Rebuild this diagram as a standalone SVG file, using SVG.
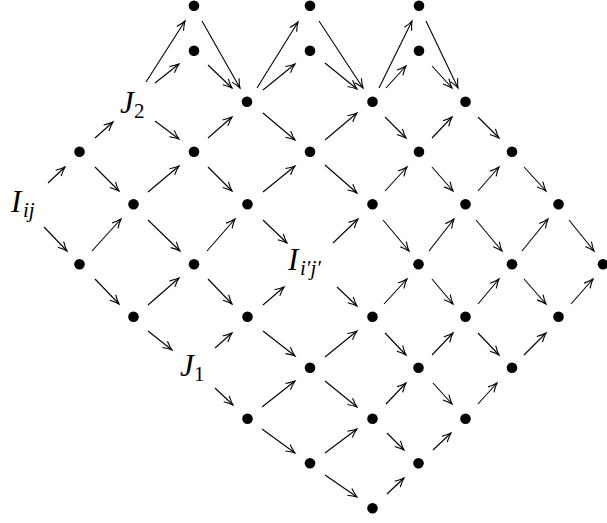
<svg xmlns="http://www.w3.org/2000/svg" width="607" height="523" viewBox="0 0 607 523">
<style>
.n{fill:#000}
.e line{stroke:#000;stroke-width:1.1;fill:none;marker-end:url(#ah)}
.lb{fill:#000}
.it{font-style:italic}
</style>
<defs>
<marker id="ah" markerUnits="userSpaceOnUse" markerWidth="14" markerHeight="12" viewBox="-11 -6 12 12" refX="0" refY="0" orient="auto" overflow="visible">
<path d="M-9,-4 Q-4,-1.2 0,0 Q-4,1.2 -9,4" fill="none" stroke="#000" stroke-width="1.1"/>
</marker>
</defs>
<g class="e" id="connectors">
<line x1="48" y1="183" x2="65" y2="167"/>
<line x1="95" y1="138" x2="113" y2="122"/>
<line x1="146" y1="82" x2="185" y2="21"/>
<line x1="155" y1="83" x2="179" y2="64"/>
<line x1="155" y1="121" x2="179" y2="139"/>
<line x1="202" y1="21" x2="240" y2="88"/>
<line x1="208" y1="65" x2="232" y2="88"/>
<line x1="257" y1="88" x2="298" y2="22"/>
<line x1="263" y1="90" x2="295" y2="64"/>
<line x1="319" y1="21" x2="363" y2="88"/>
<line x1="325" y1="63" x2="357" y2="89"/>
<line x1="379" y1="88" x2="412" y2="21"/>
<line x1="386" y1="88" x2="406" y2="66"/>
<line x1="426" y1="21" x2="458" y2="88"/>
<line x1="432" y1="66" x2="452" y2="88"/>
<line x1="208" y1="138" x2="232" y2="117"/>
<line x1="263" y1="113" x2="295" y2="140"/>
<line x1="325" y1="140" x2="357" y2="113"/>
<line x1="385" y1="117" x2="406" y2="138"/>
<line x1="432" y1="138" x2="452" y2="117"/>
<line x1="478" y1="117" x2="499" y2="138"/>
<line x1="95" y1="167" x2="119" y2="191"/>
<line x1="148" y1="192" x2="179" y2="166"/>
<line x1="208" y1="167" x2="232" y2="191"/>
<line x1="263" y1="192" x2="295" y2="166"/>
<line x1="325" y1="165" x2="357" y2="193"/>
<line x1="385" y1="191" x2="407" y2="167"/>
<line x1="432" y1="167" x2="453" y2="191"/>
<line x1="478" y1="191" x2="499" y2="167"/>
<line x1="524" y1="167" x2="546" y2="191"/>
<line x1="44" y1="227" x2="67" y2="251"/>
<line x1="92" y1="251" x2="121" y2="219"/>
<line x1="148" y1="220" x2="180" y2="251"/>
<line x1="207" y1="251" x2="235" y2="219"/>
<line x1="263" y1="220" x2="287" y2="243"/>
<line x1="333" y1="243" x2="358" y2="219"/>
<line x1="383" y1="220" x2="409" y2="251"/>
<line x1="429" y1="251" x2="454" y2="219"/>
<line x1="476" y1="220" x2="502" y2="251"/>
<line x1="522" y1="251" x2="548" y2="219"/>
<line x1="569" y1="220" x2="594" y2="251"/>
<line x1="95" y1="279" x2="119" y2="304"/>
<line x1="148" y1="305" x2="179" y2="278"/>
<line x1="208" y1="279" x2="232" y2="304"/>
<line x1="263" y1="305" x2="284" y2="287"/>
<line x1="337" y1="287" x2="357" y2="306"/>
<line x1="384" y1="304" x2="407" y2="279"/>
<line x1="432" y1="279" x2="453" y2="304"/>
<line x1="478" y1="304" x2="499" y2="279"/>
<line x1="524" y1="279" x2="546" y2="304"/>
<line x1="571" y1="304" x2="593" y2="279"/>
<line x1="148" y1="331" x2="172" y2="350"/>
<line x1="215" y1="348" x2="232" y2="333"/>
<line x1="263" y1="331" x2="295" y2="356"/>
<line x1="325" y1="357" x2="357" y2="331"/>
<line x1="385" y1="333" x2="406" y2="355"/>
<line x1="432" y1="355" x2="453" y2="333"/>
<line x1="478" y1="333" x2="499" y2="355"/>
<line x1="524" y1="355" x2="546" y2="333"/>
<line x1="215" y1="388" x2="233" y2="405"/>
<line x1="262" y1="407" x2="295" y2="381"/>
<line x1="325" y1="381" x2="357" y2="407"/>
<line x1="386" y1="404" x2="406" y2="383"/>
<line x1="433" y1="383" x2="452" y2="404"/>
<line x1="478" y1="404" x2="497" y2="383"/>
<line x1="262" y1="429" x2="295" y2="453"/>
<line x1="325" y1="453" x2="357" y2="429"/>
<line x1="387" y1="433" x2="404" y2="450"/>
<line x1="433" y1="450" x2="451" y2="433"/>
<line x1="325" y1="475" x2="357" y2="497"/>
<line x1="387" y1="494" x2="404" y2="478"/>
</g>
<g id="a1"><circle class="n" cx="194" cy="5.7" r="5.3"/></g>
<g id="a2"><circle class="n" cx="310" cy="5.7" r="5.3"/></g>
<g id="a3"><circle class="n" cx="419" cy="5.7" r="5.3"/></g>
<g id="b1"><circle class="n" cx="194" cy="50.7" r="5.3"/></g>
<g id="b2"><circle class="n" cx="310" cy="50.7" r="5.3"/></g>
<g id="b3"><circle class="n" cx="419" cy="50.7" r="5.3"/></g>
<g id="c1"><circle class="n" cx="247" cy="101.7" r="5.3"/></g>
<g id="c2"><circle class="n" cx="372.5" cy="101.7" r="5.3"/></g>
<g id="c3"><circle class="n" cx="465.5" cy="101.7" r="5.3"/></g>
<g id="d0"><circle class="n" cx="79.5" cy="151.7" r="5.3"/></g>
<g id="d1"><circle class="n" cx="194" cy="151.7" r="5.3"/></g>
<g id="d2"><circle class="n" cx="310" cy="151.7" r="5.3"/></g>
<g id="d3"><circle class="n" cx="419" cy="151.7" r="5.3"/></g>
<g id="d4"><circle class="n" cx="512" cy="151.7" r="5.3"/></g>
<g id="e1"><circle class="n" cx="133.5" cy="204.3" r="5.3"/></g>
<g id="e2"><circle class="n" cx="247.5" cy="204.3" r="5.3"/></g>
<g id="e3"><circle class="n" cx="372.5" cy="204.3" r="5.3"/></g>
<g id="e4"><circle class="n" cx="465.5" cy="204.3" r="5.3"/></g>
<g id="e5"><circle class="n" cx="558.5" cy="204.3" r="5.3"/></g>
<g id="f0"><circle class="n" cx="79.5" cy="264.3" r="5.3"/></g>
<g id="f1"><circle class="n" cx="194" cy="264.3" r="5.3"/></g>
<g id="f3"><circle class="n" cx="418.5" cy="264.3" r="5.3"/></g>
<g id="f4"><circle class="n" cx="512" cy="264.3" r="5.3"/></g>
<g id="f5"><circle class="n" cx="603" cy="264.3" r="5.3"/></g>
<g id="g1"><circle class="n" cx="133.5" cy="316.7" r="5.3"/></g>
<g id="g2"><circle class="n" cx="247.5" cy="316.7" r="5.3"/></g>
<g id="g3"><circle class="n" cx="372.5" cy="316.7" r="5.3"/></g>
<g id="g4"><circle class="n" cx="465.5" cy="316.7" r="5.3"/></g>
<g id="g5"><circle class="n" cx="558.5" cy="316.7" r="5.3"/></g>
<g id="h1"><circle class="n" cx="310" cy="367.7" r="5.3"/></g>
<g id="h2"><circle class="n" cx="418.5" cy="367.7" r="5.3"/></g>
<g id="h3"><circle class="n" cx="512" cy="367.7" r="5.3"/></g>
<g id="i1"><circle class="n" cx="247.5" cy="418.7" r="5.3"/></g>
<g id="i2"><circle class="n" cx="372.5" cy="418.7" r="5.3"/></g>
<g id="i3"><circle class="n" cx="465.5" cy="418.7" r="5.3"/></g>
<g id="j1"><circle class="n" cx="310" cy="463.3" r="5.3"/></g>
<g id="j2"><circle class="n" cx="418.5" cy="463.3" r="5.3"/></g>
<g id="k1"><circle class="n" cx="372.5" cy="508.3" r="5.3"/></g>
<g id="Iij"><text class="lb" font-family="'Liberation Serif', 'DejaVu Serif', serif" font-size="31"><tspan class="it" x="11" y="212">I</tspan><tspan class="it" x="23" y="217" font-size="21">ij</tspan></text></g>
<g id="J2"><text class="lb" font-family="'Liberation Serif', 'DejaVu Serif', serif" font-size="31"><tspan class="it" x="120" y="113">J</tspan><tspan x="134" y="118" font-size="21">2</tspan></text></g>
<g id="J1"><text class="lb" font-family="'Liberation Serif', 'DejaVu Serif', serif" font-size="31"><tspan class="it" x="180" y="376">J</tspan><tspan x="194" y="381" font-size="21">1</tspan></text></g>
<g id="Iipjp"><text class="lb" font-family="'Liberation Serif', 'DejaVu Serif', serif" font-size="31"><tspan class="it" x="288" y="270">I</tspan><tspan class="it" x="300" y="275" font-size="21">i′j′</tspan></text></g>
</svg>
